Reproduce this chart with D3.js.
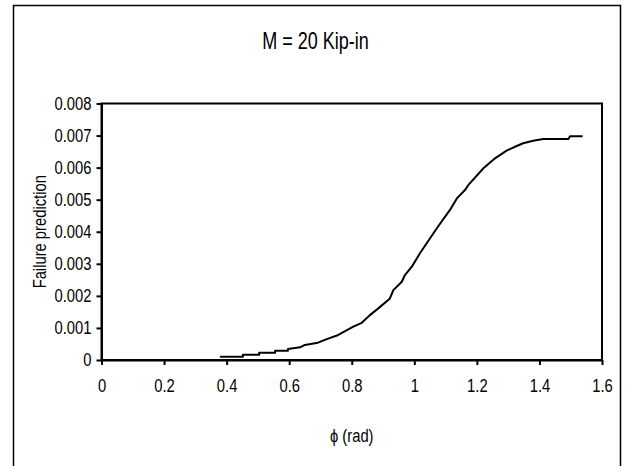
<!DOCTYPE html>
<html>
<head>
<meta charset="utf-8">
<script src="https://cdn.jsdelivr.net/npm/d3@7"></script>
<style>
  body { margin: 0; background: #fff; }
  text { font-family: "Liberation Sans", Arial, sans-serif; fill: #000; }
  .axis path, .axis line { stroke: #000; stroke-width: 2; }
</style>
</head>
<body>
<svg id="chart" width="632" height="466"></svg>
<script>
/* Failure prediction vs phi, M = 20 Kip-in */

const title = "M = 20 Kip-in";
const xTitle = "\u03D5 (rad)";
const yTitle = "Failure prediction";

const xTicks = [0, 0.2, 0.4, 0.6, 0.8, 1, 1.2, 1.4, 1.6];
const xTickLabels = ["0", "0.2", "0.4", "0.6", "0.8", "1", "1.2", "1.4", "1.6"];
const yTicks = [0, 0.001, 0.002, 0.003, 0.004, 0.005, 0.006, 0.007, 0.008];
const yTickLabels = ["0", "0.001", "0.002", "0.003", "0.004", "0.005", "0.006", "0.007", "0.008"];

const phi = [0.381, 0.381, 0.452, 0.452, 0.504, 0.504, 0.555, 0.555, 0.596, 0.596, 0.635, 0.65,
             0.692, 0.718, 0.757, 0.805, 0.832, 0.858, 0.885, 0.922, 0.933, 0.960, 0.970,
             0.992, 1.018, 1.045, 1.072, 1.114, 1.136, 1.162, 1.173, 1.221, 1.258, 1.295,
             1.322, 1.348, 1.380, 1.412, 1.492, 1.498, 1.538];
const failure = [0.00008, 0.000103, 0.000103, 0.00016, 0.00016, 0.000228, 0.000228, 0.00029, 0.00029, 0.000343, 0.000396, 0.00047,
                 0.00054, 0.000645, 0.00078, 0.00104, 0.00116, 0.0014, 0.00161, 0.00192, 0.00218, 0.00244, 0.00265,
                 0.00291, 0.00333, 0.00372, 0.00411, 0.00468, 0.00504, 0.0053, 0.00546, 0.00598, 0.00629, 0.00653,
                 0.00665, 0.00676, 0.00684, 0.00689, 0.00689, 0.00698, 0.00698];

const svg = d3.select("#chart");
const plot = {left: 101.5, right: 602, top: 103.5, bottom: 360};

// the original text is a squeezed Arial, no narrow face is installed
function condense(sel, k) {
    sel.each(function() {
        const w = this.getComputedTextLength();
        d3.select(this).attr("textLength", w * k).attr("lengthAdjust", "spacingAndGlyphs");
    });
}

// outer chart border (runs off the bottom)
svg.append("rect")
    .attr("x", 13.5).attr("y", 5.5)
    .attr("width", 607).attr("height", 520)
    .attr("fill", "none").attr("stroke", "#000").attr("stroke-width", 1.5);

const x = d3.scaleLinear().domain([0, 1.6]).range([plot.left, plot.right]);
const y = d3.scaleLinear().domain([0, 0.008]).range([plot.bottom, plot.top]);

// plot frame
svg.append("rect")
    .attr("x", plot.left).attr("y", plot.top)
    .attr("width", plot.right - plot.left).attr("height", plot.bottom - plot.top)
    .attr("fill", "none").attr("stroke", "#000").attr("stroke-width", 2);

const xAxis = d3.axisBottom(x).tickValues(xTicks)
    .tickFormat((d, i) => xTickLabels[i]).tickSize(5).tickPadding(14).tickSizeOuter(0);
svg.append("g").attr("class", "axis")
    .attr("transform", `translate(0,${plot.bottom})`)
    .call(xAxis)
    .call(g => g.selectAll("text").style("font-size", "18px"));

const yAxis = d3.axisLeft(y).tickValues(yTicks)
    .tickFormat((d, i) => yTickLabels[i]).tickSize(5).tickPadding(5).tickSizeOuter(0);
svg.append("g").attr("class", "axis")
    .attr("transform", `translate(${plot.left},0)`)
    .call(yAxis)
    .call(g => g.selectAll("text").style("font-size", "18px"));

svg.selectAll(".axis text").attr("font-family", null);
condense(svg.selectAll(".axis text"), 0.82);

const line = d3.line()
    .x((d, i) => x(phi[i]))
    .y(d => y(d));

svg.append("path")
    .datum(failure)
    .attr("d", line)
    .attr("fill", "none")
    .attr("stroke", "#000")
    .attr("stroke-width", 2)
    .attr("stroke-linejoin", "round");

svg.append("text")
    .attr("x", 315.5).attr("y", 49)
    .attr("text-anchor", "middle")
    .style("font-size", "24px")
    .text(title)
    .call(condense, 0.75);

svg.append("text")
    .attr("x", (plot.left + plot.right) / 2).attr("y", 442)
    .attr("text-anchor", "middle")
    .style("font-size", "18px")
    .text(xTitle)
    .call(condense, 0.82);

svg.append("text")
    .attr("transform", `translate(46,${(plot.top + plot.bottom) / 2}) rotate(-90)`)
    .attr("text-anchor", "middle")
    .style("font-size", "18px")
    .text(yTitle)
    .call(condense, 0.82);
</script>
</body>
</html>
